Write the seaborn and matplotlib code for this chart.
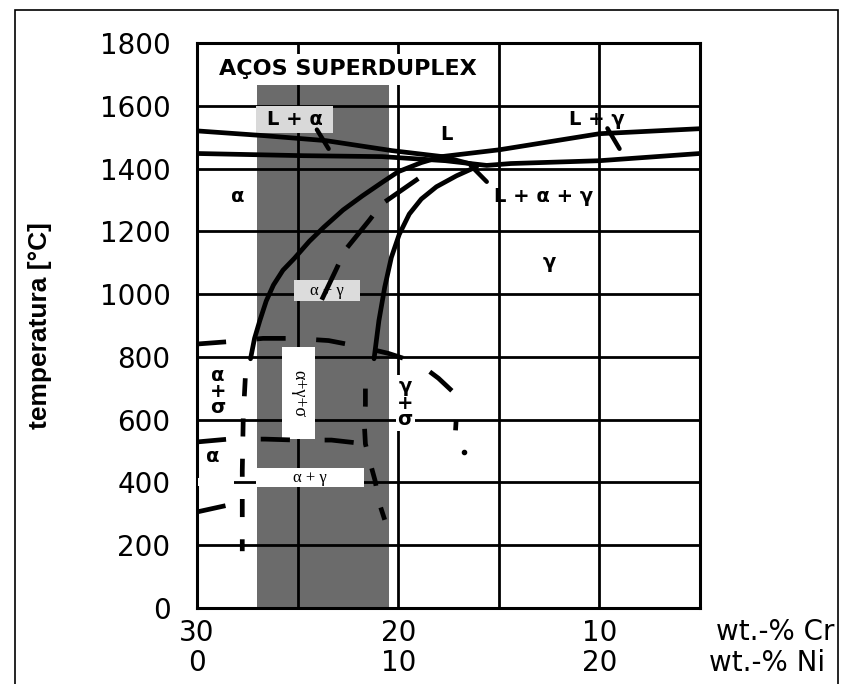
import matplotlib
matplotlib.use("Agg")
import matplotlib.pyplot as plt
import matplotlib.transforms as mtransforms
from matplotlib.patches import Rectangle
import seaborn as sns

sns.set_theme(style="white")
plt.rcParams['font.family'] = ['DejaVu Sans']
plt.rcParams['lines.scale_dashes'] = False
for k in ['text.color', 'axes.labelcolor', 'xtick.color', 'ytick.color']:
    plt.rcParams[k] = 'black'

# eixo x em wt.-% Ni (Cr = 30 - Ni), eixo y em temperatura
ni_grid = [0, 5, 10, 15, 20, 25]
cr_labels = ['30', '', '20', '', '10', '']
ni_pos = [0, 10, 20]
ni_labels = ['0', '10', '20']
t_ticks = list(range(0, 1801, 200))

# faixa dos aços superduplex
duplex_ni = [2.97, 9.52]
duplex_top = 1685

# linhas de fase
liq_a_ni = [0, 3.3, 6.4, 9.7, 12.2, 13.7]
liq_a_t = [1520, 1505, 1489, 1457, 1438, 1413]
alfa_ni = [2.66, 2.86, 3.12, 3.44, 3.8, 4.27, 4.84, 5.58, 6.3, 7.26, 8.22,
           9.18, 10, 11.15, 12.15, 15.05, 20, 25]
alfa_t = [794, 859, 915, 978, 1029, 1076, 1114, 1168, 1213, 1268, 1313,
          1355, 1390, 1419, 1438, 1460, 1511, 1527]
sol_ni = [0, 5.3, 9.2, 12.35, 14.4, 15.6, 20, 25]
sol_t = [1448, 1441, 1438, 1425, 1410, 1416, 1425, 1448]
gama_ni = [13.9, 12.9, 11.9, 11.15, 10.55, 10.05, 9.66, 9.33, 9.04, 8.8]
gama_t = [1406, 1377, 1342, 1303, 1255, 1190, 1117, 1022, 915, 794]

# linhas tracejadas
gama_low_ni = [8.37, 8.37, 8.32, 8.37, 8.61, 8.85, 9.04, 9.33]
gama_low_t = [699, 648, 582, 523, 462, 406, 338, 281]
alfa_low_ni = [2.4, 2.3, 2.25, 2.25]
alfa_low_t = [732, 611, 437, 181]
mid_ni = [11.0, 9.18, 8.56, 7.36, 6.92, 6.2]
mid_t = [1368, 1287, 1235, 1140, 1079, 982]
sig_ni = [0, 1.46, 3.28, 4.84, 6.54, 8.08, 9.52, 11.0, 12.0, 12.8, 12.9, 12.85]
sig_t = [841, 848, 859, 859, 852, 833, 811, 780, 732, 684, 620, 566]
sig2_ni = [0, 1.56, 3.39, 4.95, 6.68, 8.37]
sig2_t = [529, 538, 538, 535, 535, 523]
sig3_ni = [0, 1.56]
sig3_t = [306, 328]
dot_ni, dot_t = 13.25, 498

# setas indicadoras
pointers = [([5.96, 6.54], [1524, 1463]),
            ([20.4, 21.0], [1528, 1463]),
            ([13.6, 14.4], [1410, 1358])]

fig = plt.figure(figsize=(8.48, 6.84), dpi=100)
ax = fig.add_axes([197 / 848, 1 - 608 / 684, 503 / 848, 565 / 684])

ax.axvspan(duplex_ni[0], duplex_ni[1], ymin=0, ymax=duplex_top / 1800,
           color='#6b6b6b', lw=0, zorder=1)

LW = 3.4
solid = [(liq_a_ni, liq_a_t), (alfa_ni, alfa_t), (sol_ni, sol_t), (gama_ni, gama_t)]
for xs, ys in solid:
    sns.lineplot(x=xs, y=ys, sort=False, estimator=None, color='black',
                 lw=LW, zorder=5, ax=ax)

dashed = [(gama_low_ni, gama_low_t, (13, 16)),
          (alfa_low_ni, alfa_low_t, (13, 16)),
          (mid_ni, mid_t, (29, 14)),
          (sig_ni, sig_t, (21, 22)),
          (sig2_ni, sig2_t, (21, 25)),
          (sig3_ni, sig3_t, (21, 25))]
for xs, ys, pat in dashed:
    sns.lineplot(x=xs, y=ys, sort=False, estimator=None, color='black',
                 lw=LW, linestyle=(0, pat), zorder=5, ax=ax)

for xs, ys in pointers:
    sns.lineplot(x=xs, y=ys, sort=False, estimator=None, color='black',
                 lw=3.2, zorder=5, ax=ax)
ax.plot([dot_ni], [dot_t], 'o', color='black', ms=3, zorder=5)

# caixas dos rótulos
boxes = [((2.92, 1514), 3.86, 86, '#d9d9d9'),
         ((4.84, 978), 3.24, 66, '#dcdcdc'),
         ((4.22, 538), 1.65, 292, 'white'),
         ((2.92, 384), 5.40, 62, 'white'),
         ((0.05, 388), 1.80, 26, 'white')]
for xy, w, h, c in boxes:
    ax.add_patch(Rectangle(xy, w, h, facecolor=c, edgecolor='none', zorder=4))

bold = dict(fontsize=14, fontweight='bold', ha='center', va='center', zorder=6)
serif = dict(fontsize=12, family=['Liberation Serif', 'DejaVu Serif'],
             ha='center', va='center', zorder=6)

ax.text(7.52, 1716, 'AÇOS SUPERDUPLEX', fontsize=16, fontweight='bold',
        ha='center', va='center', zorder=6,
        bbox=dict(facecolor='white', edgecolor='none', pad=4))
ax.text(4.85, 1557, 'L + α', **bold)
ax.text(12.4, 1508, 'L', **bold)
ax.text(19.85, 1556, 'L + γ', **bold)
ax.text(17.2, 1310, 'L + α + γ', **bold)
ax.text(2.03, 1310, 'α', **bold)
ax.text(17.5, 1102, 'γ', **bold)
ax.text(1.04, 690, 'α\n+\nσ', linespacing=0.8, **bold)
ax.text(0.78, 483, 'α', **bold)
ax.text(10.35, 653, 'γ\n+\nσ', linespacing=0.85,
        bbox=dict(facecolor='white', edgecolor='none', pad=1), **bold)
ax.text(6.46, 1011, 'α + γ', **serif)
ax.text(5.05, 684, 'α+γ+σ', rotation=270, **dict(serif, fontsize=13))
ax.text(5.6, 413, 'α + γ', **serif)

ax.set_xlim(0, 25)
ax.set_ylim(0, 1800)
ax.set_xticks(ni_grid)
ax.set_xticklabels(cr_labels, fontsize=20)
ax.set_yticks(t_ticks)
ax.set_yticklabels([str(t) for t in t_ticks], fontsize=20)
ax.tick_params(axis='x', length=0, pad=8)
ax.tick_params(axis='y', length=0, pad=19)
ax.set_axisbelow(False)
ax.grid(True, color='black', lw=2.0)
for s in ax.spines.values():
    s.set_color('black')
    s.set_linewidth(2.2)

trans = mtransforms.blended_transform_factory(ax.transData, ax.transAxes)
for x, s in zip(ni_pos, ni_labels):
    ax.text(x, -0.097, s, transform=trans, fontsize=20, ha='center', va='center')
ax.text(1.268, -0.0425, 'wt.-% Cr', transform=ax.transAxes, fontsize=20,
        ha='right', va='center')
ax.text(1.2485, -0.097, 'wt.-% Ni', transform=ax.transAxes, fontsize=20,
        ha='right', va='center')

ax.set_ylabel('temperatura [°C]', fontsize=19, fontweight='bold',
              family=['Liberation Sans', 'DejaVu Sans'])
ax.yaxis.set_label_coords(-0.288, 0.5)

fig.add_artist(Rectangle((15 / 848, -0.1), 823 / 848, 1 - 10 / 684 + 0.1,
                         transform=fig.transFigure, fill=False,
                         edgecolor='black', lw=1.2))

fig.savefig('out.png', dpi=100)
